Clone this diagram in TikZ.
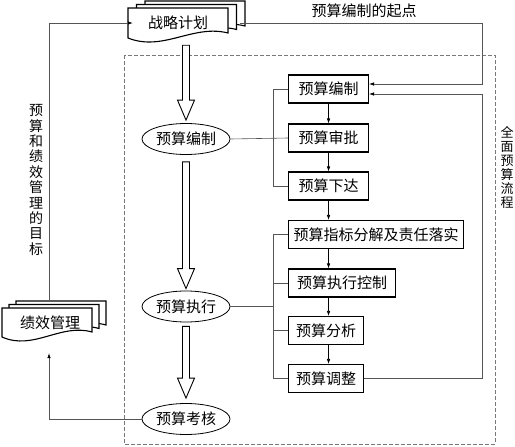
\documentclass[tikz,border=0pt]{standalone}
\usepackage{fontspec}
\setmainfont{Noto Sans CJK SC}
\usetikzlibrary{shapes.geometric,arrows.meta,positioning,calc}
\definecolor{linkgray}{RGB}{85,85,85}
\definecolor{dashgray}{RGB}{120,120,120}

% document symbol: left, top, right, bottom
\newcommand{\docpage}[4]{%
  \draw[docline] (#1,#2) -- (#3,#2) -- (#3,#4-5)
    .. controls ({#1+0.65*(#3-#1)},{#4-14}) and ({#1+0.35*(#3-#1)},{#4+14}) .. (#1,#4) -- cycle;}
% hollow block arrow: start, tip (same x)
\newcommand{\fatarrow}[2]{%
  \draw[fatline] ($(#1)+(-3.5,0)$) -- ($(#2)+(-3.5,-20)$) -- ($(#2)+(-8.5,-20)$) -- (#2)
    -- ($(#2)+(8.5,-20)$) -- ($(#2)+(3.5,-20)$) -- ($(#1)+(3.5,0)$) -- cycle;}

\begin{document}
\begin{tikzpicture}[x=1pt,y=-1pt,
    stepbox/.style={draw, line width=1.1pt, minimum height=28pt, inner xsep=4pt, anchor=west, font=\fontsize{15}{17}\selectfont},
    phase/.style={draw, ellipse, line width=0.8pt, minimum width=88pt, minimum height=31pt, inner sep=0pt, font=\fontsize{15}{17}\selectfont},
    doctext/.style={minimum width=90pt, minimum height=30pt, inner sep=0pt, font=\fontsize{15}{17}\selectfont},
    docline/.style={draw, fill=white, line width=1.1pt},
    fatline/.style={draw, fill=white, line width=0.9pt},
    link/.style={draw=linkgray, line width=0.6pt},
    arr/.style={link, -{Latex[length=5pt,width=3.5pt,black]}},
    steparr/.style={draw=black, line width=0.6pt, -{Latex[length=5pt,width=3.5pt]}},
    vlabel/.style={align=center, inner sep=0pt}]
    \useasboundingbox (0,0) rectangle (515,447);

    % Full budget process frame
    \draw[dashgray, line width=0.7pt, dash pattern=on 4pt off 2pt] (124,55) rectangle (495,444);
    \node[vlabel, font=\fontsize{13}{14}\selectfont] (process) at (507,167) {全\\面\\预\\算\\流\\程};

    % Strategic plan (stacked documents)
    \docpage{145}{1}{245}{31}
    \docpage{136.5}{4.5}{236.5}{34.5}
    \docpage{128}{8}{228}{38}
    \node[doctext] (plan) at (178,23) {战略计划};

    % Performance management (stacked documents)
    \docpage{16}{301}{106}{330}
    \docpage{9}{304.5}{99}{333.5}
    \docpage{2}{308}{92}{337}
    \node[doctext] (perf) at (50,323) {绩效管理};
    \coordinate (perftop) at ($(perf.north)+(-1,-7)$);

    % Main phases
    \node[phase] (drafting) at (186,139) {预算编制};
    \node[phase] (execution) at (186,306.5) {预算执行};
    \node[phase] (assessment) at (186,419) {预算考核};

    % Block arrows
    \coordinate (f1s) at ($(plan.south -| drafting.north)+(0,7)$);
    \coordinate (f1t) at ($(drafting.north)+(0,-3)$);
    \coordinate (f2s) at ($(drafting.south)+(0,7)$);
    \coordinate (f2t) at ($(execution.north)+(0,-2)$);
    \coordinate (f3s) at ($(execution.south)+(0,4)$);
    \coordinate (f3t) at ($(assessment.north)+(0,-5)$);
    \fatarrow{f1s}{f1t}
    \fatarrow{f2s}{f2t}
    \fatarrow{f3s}{f3t}

    % Process steps
    \node[stepbox, minimum width=80pt] (draftbox) at (288,89) {预算编制};
    \node[stepbox, minimum width=80pt] (approvebox) at (288,138) {预算审批};
    \node[stepbox, minimum width=80pt] (issuebox) at (288,186) {预算下达};
    \node[stepbox, minimum width=175pt] (splitbox) at (288,234.5) {预算指标分解及责任落实};
    \node[stepbox, minimum width=107pt] (controlbox) at (288,283) {预算执行控制};
    \node[stepbox, minimum width=75pt] (analysisbox) at (288,330.5) {预算分析};
    \node[stepbox, minimum width=75pt] (adjustbox) at (288,378.5) {预算调整};

    % Step to step
    \draw[steparr] (draftbox) -- (approvebox);
    \draw[steparr] (approvebox) -- (issuebox);
    \draw[steparr] (issuebox.south) -- (issuebox.south |- splitbox.north);
    \draw[steparr] (splitbox.south -| draftbox) -- (controlbox.north -| draftbox);
    \draw[steparr] (controlbox.south -| draftbox) -- (analysisbox.north -| draftbox);
    \draw[steparr] (analysisbox.south -| draftbox) -- (adjustbox.north -| draftbox);

    % Drafting bracket
    \draw[link] (draftbox.west) -- ++(-15,0) |- (issuebox.west);
    \draw[link] (drafting.east) -- (approvebox.west);

    % Execution bracket
    \coordinate (brk) at ($(splitbox.west)+(-15,0)$);
    \draw[link] (splitbox.west) -- (brk) |- (adjustbox.west);
    \draw[link] (execution.east) -- (execution.east -| brk);
    \draw[link] (controlbox.west) -- (controlbox.west -| brk);
    \draw[link] (analysisbox.west) -- (analysisbox.west -| brk);

    % Feedback loops
    \coordinate (rt) at ($(splitbox.east)+(18,0)$);
    \draw[arr] ($(plan.east)+(17,0)$) -| ($(draftbox.east -| rt)+(0,-5)$) -- ($(draftbox.east)+(0,-5)$);
    \node[font=\fontsize{15}{17}\selectfont] (startlbl) at (364,11) {预算编制的起点};
    \draw[arr] (adjustbox.east) -| ($(draftbox.east -| rt)+(0,5)$) -- ($(draftbox.east)+(0,5)$);

    % Performance loop
    \draw[arr] (assessment.west) -| ($(perf.south)+(-1,15)$);
    \draw[arr] (perftop) |- (plan.west);
    \node[vlabel, font=\fontsize{14}{15.4}\selectfont] (goal) at (36,180) {预\\算\\和\\绩\\效\\管\\理\\的\\目\\标};
\end{tikzpicture}
\end{document}
